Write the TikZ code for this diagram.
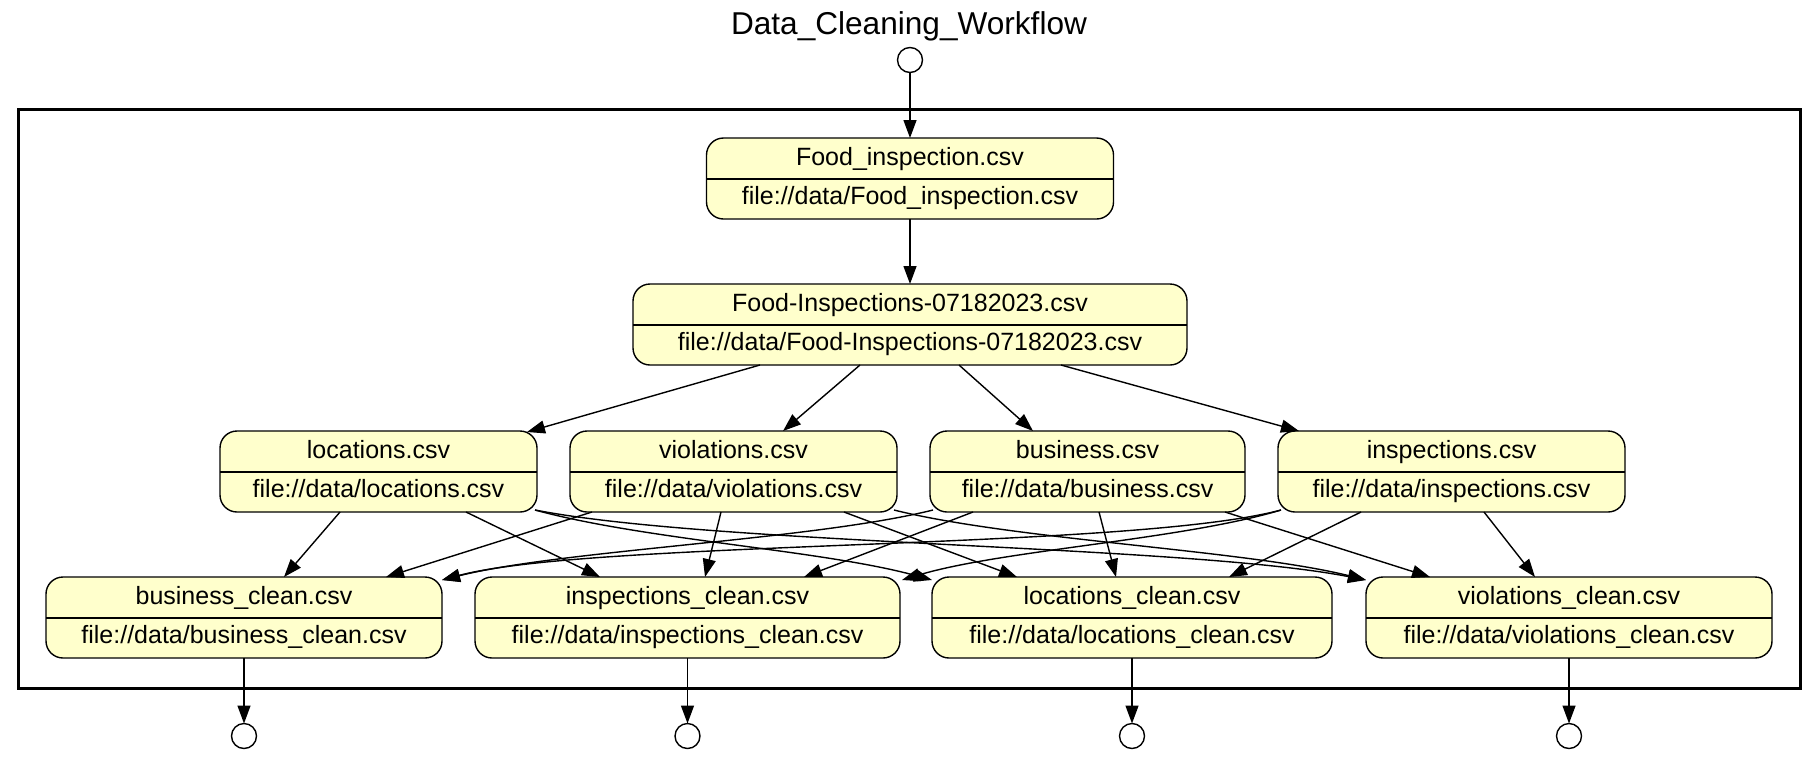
\documentclass[tikz,border=0pt]{standalone}
\usepackage{fontspec}
\setmainfont{Liberation Sans}
\usetikzlibrary{arrows.meta,calc}
\definecolor{nodefill}{HTML}{FFFFCC}
\tikzset{
  recbox/.style={draw=black, fill=nodefill, rounded corners=8.5pt, line width=0.7pt,
    inner sep=0pt, outer sep=0pt, minimum height=40.5pt},
  lbl/.style={inner sep=0pt, anchor=base, font=\fontsize{12.5}{15}\selectfont},
  edge/.style={line width=0.7pt, -{Triangle[length=9pt,width=6.5pt]}},
  endpt/.style={circle, draw=black, line width=0.7pt, minimum size=12.5pt, inner sep=0pt, outer sep=0pt},
}
% name, center x, top y, width (px), title, file
\newcommand{\recnode}[6]{%
  \node[recbox, minimum width=#4*0.5pt] (#1) at (#2,#3+40.5) {};
  \draw[line width=0.7pt] ($(#1.west)+(0,0.5)$) -- ($(#1.east)+(0,0.5)$);
  \node[lbl] (#1-t) at (#2,#3+27) {#5};
  \node[lbl] (#1-f) at (#2,#3+66) {#6};
}
\begin{document}
\begin{tikzpicture}[x=0.5pt,y=-0.5pt]
\useasboundingbox (0,0) rectangle (1814,766);
% title
\node[anchor=base, inner sep=0pt, font=\fontsize{15.8}{19}\selectfont] (title) at (909,34) {Data\_Cleaning\_Workflow};
% cluster frame
\draw[line width=1.5pt] (18,109) rectangle (1800,688);
% start / end points
\node[endpt] (start) at (910,60) {};
\node[endpt] (o1) at (244,736) {};
\node[endpt] (o2) at (687.5,736) {};
\node[endpt] (o3) at (1132,736) {};
\node[endpt] (o4) at (1569,736) {};
% record nodes
\recnode{f1}{910}{138}{407}{Food\_inspection.csv}{file://data/Food\_inspection.csv}
\recnode{f2}{910}{284}{554}{Food-Inspections-07182023.csv}{file://data/Food-Inspections-07182023.csv}
\recnode{loc}{378.5}{431}{317}{locations.csv}{file://data/locations.csv}
\recnode{vio}{733.5}{431}{327}{violations.csv}{file://data/violations.csv}
\recnode{bus}{1087.5}{431}{315}{business.csv}{file://data/business.csv}
\recnode{ins}{1451.5}{431}{347}{inspections.csv}{file://data/inspections.csv}
\recnode{bc}{244}{577}{396}{business\_clean.csv}{file://data/business\_clean.csv}
\recnode{ic}{687.5}{577}{425}{inspections\_clean.csv}{file://data/inspections\_clean.csv}
\recnode{lc}{1132}{577}{400}{locations\_clean.csv}{file://data/locations\_clean.csv}
\recnode{vc}{1569}{577}{406}{violations\_clean.csv}{file://data/violations\_clean.csv}
% top chain
\draw[edge] (start.south) -- (f1.north);
\draw[edge] (f1.south) -- (f2.north);
\draw[edge] ($(f2.south)+(-150,0)$) -- ($(loc.north)+(148.5,1)$);
\draw[edge] ($(f2.south)+(-50,0)$) -- ($(vio.north)+(49.5,0)$);
\draw[edge] ($(f2.south)+(49,0)$) -- ($(bus.north)+(-54.5,0)$);
\draw[edge] ($(f2.south)+(151,0)$) -- ($(ins.north)+(-152.5,0)$);
% locations
\draw[edge] ($(loc.south)+(-38.5,0)$) -- ($(bc.north)+(40,0)$);
\draw[edge] ($(loc.south)+(87.5,0)$) -- ($(ic.north)+(-87.5,0)$);
\draw[edge] ($(loc.south)+(156.5,-2)$) .. controls +(110,30) and +(-110,-30) .. ($(lc.north)+(-200,3)$);
\draw[edge] ($(loc.south)+(156.5,-2)$) .. controls +(180,35) and +(-180,-35) .. ($(vc.north)+(-203,3)$);
% violations
\draw[edge] ($(vio.south)+(-141.5,0)$) -- ($(bc.north)+(142,0)$);
\draw[edge] ($(vio.south)+(-12.5,0)$) -- ($(ic.north)+(17.5,0)$);
\draw[edge] ($(vio.south)+(110.5,0)$) -- ($(lc.north)+(-115,0)$);
\draw[edge] ($(vio.south)+(160.5,-2)$) .. controls +(120,30) and +(-120,-30) .. ($(vc.north)+(-203,3)$);
% business
\draw[edge] ($(bus.south)+(-154.5,-2)$) .. controls +(-120,30) and +(120,-30) .. ($(bc.north)+(198,3)$);
\draw[edge] ($(bus.south)+(-114.5,0)$) -- ($(ic.north)+(116.5,0)$);
\draw[edge] ($(bus.south)+(11.5,0)$) -- ($(lc.north)+(-16,0)$);
\draw[edge] ($(bus.south)+(137.5,0)$) -- ($(vc.north)+(-139,0)$);
% inspections
\draw[edge] ($(ins.south)+(-170.5,-2)$) .. controls +(-150,40) and +(150,-40) .. ($(bc.north)+(198,3)$);
\draw[edge] ($(ins.south)+(-170.5,-2)$) .. controls +(-100,30) and +(100,-30) .. ($(ic.north)+(214.5,3)$);
\draw[edge] ($(ins.south)+(-90.5,0)$) -- ($(lc.north)+(97,0)$);
\draw[edge] ($(ins.south)+(32.5,0)$) -- ($(vc.north)+(-34,0)$);
% outputs
\draw[edge] (bc.south) -- (o1.north);
\draw[edge] (ic.south) -- (o2.north);
\draw[edge] (lc.south) -- (o3.north);
\draw[edge] (vc.south) -- (o4.north);
\end{tikzpicture}
\end{document}
